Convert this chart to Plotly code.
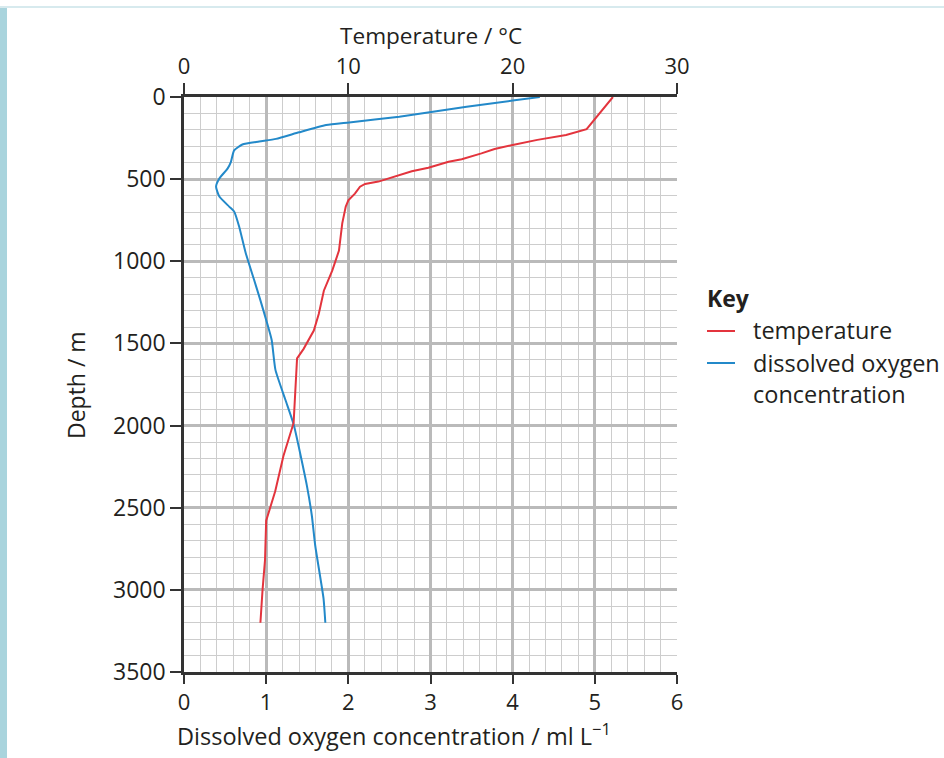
import plotly.graph_objects as go

# Data
temp_depth = [0, 196, 231, 261, 292, 317, 343, 379, 394, 431, 452, 483, 515, 529, 546, 588, 629, 668,
              769, 935, 1057, 1179, 1321, 1422, 1533, 1591, 1800, 1984, 2185, 2400, 2579, 2818, 3000, 3200]
temperature = [26.1, 24.5, 23.25, 21.5, 20.0, 18.9, 18.1, 16.9, 16.1, 14.87, 13.86, 12.85, 11.83, 11.02,
               10.71, 10.4, 10.0, 9.84, 9.63, 9.43, 9.02, 8.51, 8.2, 7.9, 7.28, 6.88, 6.78, 6.67, 6.05,
               5.55, 5.0, 4.93, 4.78, 4.65]

oxy_depth = [0, 22, 59, 120, 155, 171, 215, 255, 271, 289, 325, 396, 436, 496, 546, 606, 667, 697, 787,
             948, 1108, 1238, 1357, 1479, 1661, 1843, 1994, 2367, 2549, 2730, 3052, 3200]
oxygen = [4.33, 4.0, 3.44, 2.62, 2.01, 1.73, 1.40, 1.12, 0.915, 0.71, 0.61, 0.57, 0.53, 0.43, 0.39, 0.43,
          0.55, 0.61, 0.67, 0.75, 0.85, 0.93, 1.0, 1.067, 1.113, 1.234, 1.335, 1.496, 1.556, 1.597, 1.698, 1.72]

depth_ticks = [0, 500, 1000, 1500, 2000, 2500, 3000, 3500]
oxy_ticks = [0, 1, 2, 3, 4, 5, 6]
temp_ticks = [0, 10, 20, 30]

series_names = ["temperature", "dissolved oxygen<br>concentration"]

RED = "#e3343d"
BLUE = "#2389c9"
FONT = "Open Sans"
TXT = "#231f20"
FS = 23

W, H = 944, 758
L, R, T, B = 184, 677, 97, 672

fig = go.Figure()
fig.add_trace(go.Scatter(x=temperature, y=temp_depth, mode="lines", name=series_names[0],
                         xaxis="x2", yaxis="y", line=dict(color=RED, width=2), showlegend=False))
fig.add_trace(go.Scatter(x=oxygen, y=oxy_depth, mode="lines", name=series_names[1],
                         xaxis="x", yaxis="y", line=dict(color=BLUE, width=2, shape="spline", smoothing=0.5),
                         showlegend=False))

MINOR = "#cdcdcd"
MAJOR = "#bababa"
AX = "#333333"

fig.update_layout(
    width=W, height=H,
    margin=dict(l=L, r=W - R, t=T, b=H - B, pad=0),
    paper_bgcolor="white", plot_bgcolor="white",
    font=dict(family=FONT, size=FS, color=TXT),
    showlegend=False,
    xaxis=dict(range=[0, 6], tickvals=oxy_ticks, ticks="outside", ticklen=9, tickwidth=2,
               tickcolor=AX, showline=True, linecolor=AX, linewidth=2.5,
               showgrid=True, gridcolor=MAJOR, gridwidth=2.5, zeroline=False,
               minor=dict(dtick=0.2, showgrid=True, gridcolor=MINOR, gridwidth=1.2),
               tickfont=dict(size=22, color=TXT), side="bottom", fixedrange=True),
    xaxis2=dict(range=[0, 30], tickvals=temp_ticks, ticks="outside", ticklen=11, tickwidth=2,
                tickcolor=AX, showline=True, linecolor=AX, linewidth=2.5,
                showgrid=False, zeroline=False, overlaying="x", side="top",
                tickfont=dict(size=22, color=TXT), fixedrange=True),
    yaxis=dict(range=[3500, 0], tickvals=depth_ticks, ticks="outside", ticklen=11, tickwidth=2,
               tickcolor=AX, showline=True, linecolor=AX, linewidth=2.5,
               showgrid=True, gridcolor=MAJOR, gridwidth=2.5, zeroline=False,
               minor=dict(dtick=100, showgrid=True, gridcolor=MINOR, gridwidth=1.2),
               tickfont=dict(size=FS, color=TXT), fixedrange=True),
)

def px_x(p):
    return (p - L) / (R - L)

def px_y(p):
    return (B - p) / (B - T)

fig.add_annotation(text="Temperature / °C", xref="paper", yref="paper", x=px_x(431), y=px_y(35),
                   showarrow=False, xanchor="center", yanchor="middle", font=dict(size=22.6, color=TXT))
fig.add_annotation(text="Dissolved oxygen concentration / ml L<sup>−1</sup>", xref="paper", yref="paper",
                   x=px_x(175), y=px_y(734), showarrow=False, xanchor="left", yanchor="middle",
                   font=dict(size=23.5, color=TXT))
fig.add_annotation(text="Depth / m", xref="paper", yref="paper", x=px_x(76), y=px_y(385),
                   showarrow=False, xanchor="center", yanchor="middle", textangle=-90,
                   font=dict(size=FS, color=TXT))

# Key (drawn manually to match the short swatches of the reference)
fig.add_annotation(text="<b>Key</b>", xref="paper", yref="paper", x=px_x(705), y=px_y(298),
                   showarrow=False, xanchor="left", yanchor="middle", font=dict(size=FS, color=TXT))
fig.add_annotation(text=series_names[0], xref="paper", yref="paper", x=px_x(751), y=px_y(330),
                   showarrow=False, xanchor="left", yanchor="middle", font=dict(size=23.5, color=TXT))
fig.add_annotation(text=series_names[1], xref="paper", yref="paper", x=px_x(751), y=px_y(362),
                   showarrow=False, xanchor="left", yanchor="top", align="left",
                   yshift=17, font=dict(size=23.5, color=TXT))
for yy, col in [(331, RED), (363, BLUE)]:
    fig.add_shape(type="line", xref="paper", yref="paper", x0=px_x(707), x1=px_x(735),
                  y0=px_y(yy), y1=px_y(yy), line=dict(color=col, width=2))

# page decoration: left teal strip and top hairline
fig.add_shape(type="rect", xref="paper", yref="paper", x0=px_x(0), x1=px_x(7), y0=px_y(758), y1=px_y(7),
              fillcolor="#a9d4dd", line=dict(width=0), layer="below")
fig.add_shape(type="line", xref="paper", yref="paper", x0=px_x(0), x1=px_x(944), y0=px_y(7), y1=px_y(7),
              line=dict(color="#d7eaee", width=2), layer="below")

fig.write_html("out.html")
